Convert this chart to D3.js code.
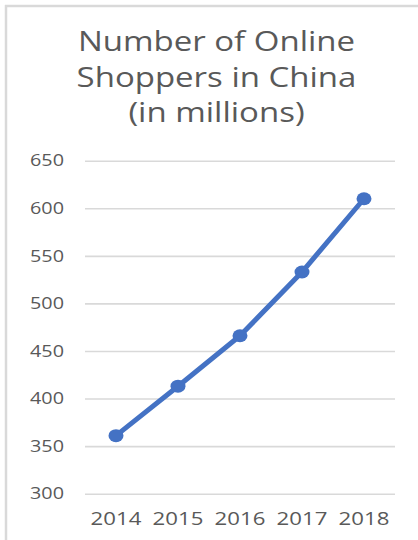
<!DOCTYPE html>
<html>
<head>
<meta charset="utf-8">
<script src="https://cdn.jsdelivr.net/npm/d3@7"></script>
<style>
  html, body { margin: 0; padding: 0; background: #fff; }
  svg { display: block; }
</style>
</head>
<body>
<script>
const titleLines = ["Number of Online", "Shoppers in China", "(in millions)"];
const years = ["2014", "2015", "2016", "2017", "2018"];
const shoppers = [361, 413, 466, 533, 610];
const yTicks = [300, 350, 400, 450, 500, 550, 600, 650];

(function () {
const W = 418, H = 540;
const SX = 1.2; // horizontal stretch of the reference text
const svg = d3.select("body").append("svg").attr("width", W).attr("height", H);

// chart border (top and left visible)
svg.append("line").attr("x1", 5).attr("x2", W).attr("y1", 6).attr("y2", 6)
  .attr("stroke", "#d9d9d9").attr("stroke-width", 2.5);
svg.append("line").attr("x1", 6).attr("x2", 6).attr("y1", 5).attr("y2", H)
  .attr("stroke", "#d9d9d9").attr("stroke-width", 2.5);

const textColor = "#595959";
const font = "'Open Sans', sans-serif";

// title
svg.append("g").selectAll("text").data(titleLines).join("text")
  .attr("transform", (d, i) => `translate(216.5,${51 + i * 35.5}) scale(${SX},1)`)
  .attr("text-anchor", "middle")
  .attr("font-family", font)
  .attr("font-size", 27.5)
  .attr("fill", textColor)
  .text(d => d);

const mLeft = 85, mRight = 395, mTop = 160.7, mBottom = 493.7;
const x = d3.scaleBand().domain(years).range([mLeft, mRight]).padding(0);
const y = d3.scaleLinear().domain([300, 650]).range([mBottom, mTop]);

// y axis with gridlines
const yAxis = svg.append("g").attr("transform", `translate(${mLeft},0)`)
  .call(d3.axisLeft(y).tickValues(yTicks).tickSizeInner(-(mRight - mLeft)).tickSizeOuter(0).tickPadding(21));
yAxis.select(".domain").remove();
yAxis.selectAll(".tick line").attr("stroke", "#d9d9d9").attr("stroke-width", 1.6);
yAxis.selectAll(".tick text").attr("fill", textColor).attr("font-family", font).attr("font-size", 16.5)
  .attr("x", 0).attr("transform", `translate(-21,0) scale(${SX},1)`);

// x axis labels
const xAxis = svg.append("g").attr("transform", `translate(0,${mBottom})`)
  .call(d3.axisBottom(x).tickSize(0).tickPadding(0));
xAxis.select(".domain").remove();
xAxis.selectAll(".tick text").attr("fill", textColor).attr("font-family", font)
  .attr("font-size", 18.5).attr("dy", null).attr("y", 31.5)
  .attr("transform", `scale(${SX},1)`);

const cx = d => x(d) + x.bandwidth() / 2;
const pts = years.map((yr, i) => [cx(yr), y(shoppers[i])]);

svg.append("path").datum(pts)
  .attr("fill", "none").attr("stroke", "#4472C4").attr("stroke-width", 5)
  .attr("stroke-linejoin", "round").attr("stroke-linecap", "round")
  .attr("d", d3.line());

svg.append("g").selectAll("ellipse").data(pts).join("ellipse")
  .attr("cx", d => d[0]).attr("cy", d => d[1])
  .attr("rx", 7.5).attr("ry", 6.5)
  .attr("fill", "#4472C4");
})();
</script>
</body>
</html>
